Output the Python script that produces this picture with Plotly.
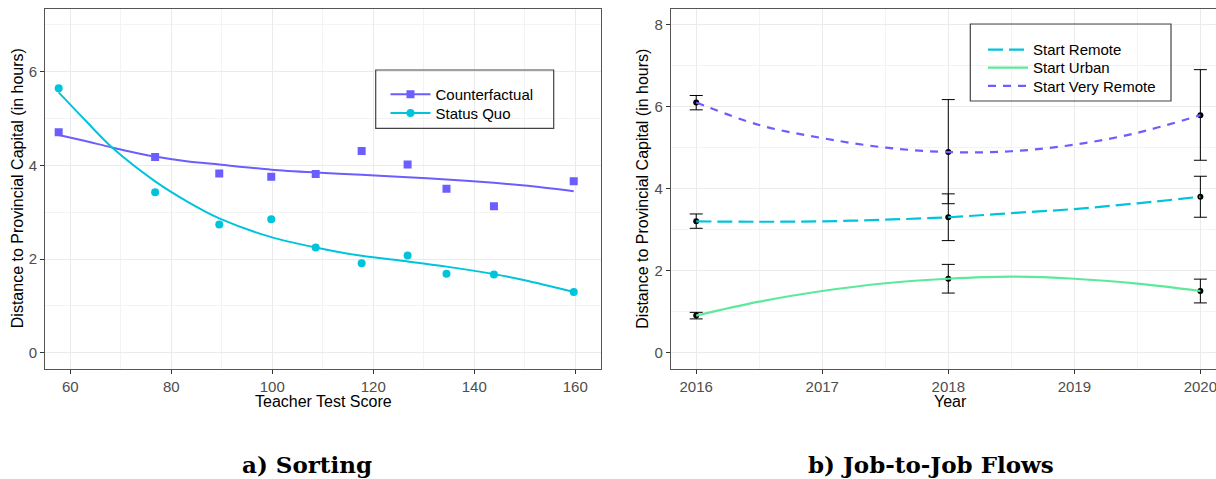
import plotly.graph_objects as go

W, H = 1216, 479

# ---------------- Panel a) Sorting ----------------
score = [57.7, 76.8, 89.5, 99.8, 108.6, 117.7, 126.8, 134.5, 143.9, 159.7]
counterfactual = [4.71, 4.18, 3.83, 3.76, 3.82, 4.31, 4.02, 3.50, 3.13, 3.66]
status_quo = [5.65, 3.43, 2.74, 2.85, 2.25, 1.91, 2.08, 1.69, 1.67, 1.30]

fit_score = [57.7, 63, 68.4, 76.8, 83, 89.5, 99.8, 108.6, 117.7, 126.8, 134.5, 143.9, 150, 159.7]
counterfactual_fit = [4.65, 4.52, 4.38, 4.19, 4.09, 4.02, 3.91, 3.85, 3.80, 3.75, 3.70, 3.63, 3.57, 3.45]
status_quo_fit = [5.56, 4.96, 4.37, 3.66, 3.24, 2.87, 2.47, 2.25, 2.07, 1.95, 1.84, 1.68, 1.55, 1.30]

# ---------------- Panel b) Job-to-Job Flows ----------------
years = [2016, 2018, 2020]
remote = [3.20, 3.30, 3.80]
remote_lo = [3.03, 2.73, 3.30]
remote_hi = [3.38, 3.87, 4.30]
urban = [0.90, 1.80, 1.50]
urban_lo = [0.82, 1.45, 1.21]
urban_hi = [0.98, 2.15, 1.79]
very_remote = [6.10, 4.89, 5.79]
very_remote_lo = [5.92, 3.63, 4.69]
very_remote_hi = [6.27, 6.17, 6.90]

fit_years = [2016, 2016.5, 2017, 2017.5, 2018, 2018.5, 2019, 2019.5, 2020]
remote_fit = [3.20, 3.19, 3.20, 3.24, 3.30, 3.40, 3.50, 3.64, 3.80]
urban_fit = [0.90, 1.24, 1.50, 1.69, 1.80, 1.85, 1.80, 1.68, 1.50]
very_remote_fit = [6.10, 5.55, 5.23, 5.00, 4.89, 4.91, 5.07, 5.36, 5.79]

C_PURPLE = "#6C5DFF"
C_CYAN = "#00C4DC"
C_GREEN = "#5DE99B"

FONT = "Arial, Liberation Sans, sans-serif"

fig = go.Figure()

# Panel a traces
fig.add_trace(go.Scatter(x=fit_score, y=counterfactual_fit, mode="lines",
                         line=dict(color=C_PURPLE, width=2, shape="spline", smoothing=0.8),
                         showlegend=False, xaxis="x", yaxis="y"))
fig.add_trace(go.Scatter(x=fit_score, y=status_quo_fit, mode="lines",
                         line=dict(color=C_CYAN, width=2, shape="spline", smoothing=0.8),
                         showlegend=False, xaxis="x", yaxis="y"))
fig.add_trace(go.Scatter(x=score, y=counterfactual, mode="markers", marker=dict(color=C_PURPLE, symbol="square", size=8),
                         showlegend=False, xaxis="x", yaxis="y"))
fig.add_trace(go.Scatter(x=score, y=status_quo, mode="markers", marker=dict(color=C_CYAN, symbol="circle", size=8),
                         showlegend=False, xaxis="x", yaxis="y"))
# legend entries (panel a)
fig.add_trace(go.Scatter(x=[None], y=[None], mode="lines+markers", name="Counterfactual",
                         line=dict(color=C_PURPLE, width=2), marker=dict(color=C_PURPLE, symbol="square", size=8),
                         legend="legend", xaxis="x", yaxis="y"))
fig.add_trace(go.Scatter(x=[None], y=[None], mode="lines+markers", name="Status Quo",
                         line=dict(color=C_CYAN, width=2), marker=dict(color=C_CYAN, symbol="circle", size=8),
                         legend="legend2", xaxis="x", yaxis="y"))

# Panel b: error bars + points
for y, lo, hi in [(remote, remote_lo, remote_hi), (urban, urban_lo, urban_hi), (very_remote, very_remote_lo, very_remote_hi)]:
    fig.add_trace(go.Scatter(
        x=years, y=y, mode="markers",
        marker=dict(color="black", size=6),
        error_y=dict(type="data", symmetric=False,
                     array=[h - v for h, v in zip(hi, y)],
                     arrayminus=[v - l for v, l in zip(y, lo)],
                     color="black", thickness=1, width=6.5),
        showlegend=False, xaxis="x2", yaxis="y2"))

# Panel b: fitted lines
fig.add_trace(go.Scatter(x=fit_years, y=remote_fit, mode="lines", name="Start Remote",
                         line=dict(color=C_CYAN, width=2.2, dash="15px,6px", shape="spline"),
                         legend="legend3", xaxis="x2", yaxis="y2"))
fig.add_trace(go.Scatter(x=fit_years, y=urban_fit, mode="lines", name="Start Urban",
                         line=dict(color=C_GREEN, width=2.2, shape="spline"),
                         legend="legend4", xaxis="x2", yaxis="y2"))
fig.add_trace(go.Scatter(x=fit_years, y=very_remote_fit, mode="lines", name="Start Very Remote",
                         line=dict(color=C_PURPLE, width=2.2, dash="8px,7px", shape="spline"),
                         legend="legend5", xaxis="x2", yaxis="y2"))

# geometry (pixels)
ax_l0, ax_l1 = 45.3, 601.0
ax_r0, ax_r1 = 671.0, 1216.0
py_top, py_bot = 9.0, 368.5
ydom = [1 - py_bot / H, 1 - py_top / H]

axis_common = dict(
    showline=True, linecolor="#555555", linewidth=1.2,
    ticks="outside", ticklen=4, tickcolor="#333333", tickwidth=1,
    tickfont=dict(family=FONT, size=15, color="#4D4D4D"),
    showgrid=True, gridcolor="#EBEBEB", gridwidth=1.1,
    zeroline=False, automargin=False, ticklabeloverflow="allow",
)


def leg(xpx, center_px):
    return dict(x=xpx / W, y=1 - (center_px - 16) / H, xanchor="left", yanchor="top",
                bgcolor="rgba(0,0,0,0)", borderwidth=0, itemwidth=40, tracegroupgap=0,
                font=dict(family=FONT, size=15, color="black"))


fig.update_layout(
    template="none",
    width=W, height=H,
    margin=dict(l=0, r=0, t=0, b=0, pad=0),
    paper_bgcolor="white", plot_bgcolor="white",
    font=dict(family=FONT, size=15, color="black"),
    xaxis=dict(domain=[ax_l0 / W, ax_l1 / W], range=[55.05, 165.1], tick0=0, dtick=20,
               mirror=True, anchor="y",
               minor=dict(dtick=10, showgrid=True, gridcolor="#F3F3F3", gridwidth=0.7, ticks=""),
               **axis_common),
    yaxis=dict(domain=ydom, range=[-0.335, 7.34], tick0=0, dtick=2, mirror=True, anchor="x",
               minor=dict(dtick=1, showgrid=True, gridcolor="#F3F3F3", gridwidth=0.7, ticks=""),
               **axis_common),
    xaxis2=dict(domain=[ax_r0 / W, ax_r1 / W], range=[2015.80, 2020.124], tick0=2016, dtick=1,
                mirror=True, anchor="y2",
                minor=dict(dtick=0.5, showgrid=True, gridcolor="#F3F3F3", gridwidth=0.7, ticks=""),
                **axis_common),
    yaxis2=dict(domain=ydom, range=[-0.39, 8.38], tick0=0, dtick=2, mirror=False, anchor="x2",
                minor=dict(dtick=1, showgrid=True, gridcolor="#F3F3F3", gridwidth=0.7, ticks=""),
                **axis_common),
    legend=leg(385.5, 94.0),
    legend2=leg(385.5, 112.7),
    legend3=leg(983.0, 49.3),
    legend4=leg(983.0, 67.3),
    legend5=leg(983.0, 85.7),
    shapes=[
        dict(type="rect", xref="paper", yref="paper",
             x0=375.7 / W, x1=553.7 / W, y0=1 - 128.3 / H, y1=1 - 70 / H,
             line=dict(color="#444444", width=1.2), fillcolor="rgba(0,0,0,0)", layer="above"),
        dict(type="rect", xref="paper", yref="paper",
             x0=970.3 / W, x1=1171 / W, y0=1 - 101 / H, y1=1 - 24 / H,
             line=dict(color="#444444", width=1.2), fillcolor="rgba(0,0,0,0)", layer="above"),
    ],
)

title_font = dict(family=FONT, size=16, color="black")
cap_font = dict(family="DejaVu Serif, serif", size=23, color="black")
annotations = [
    dict(text="Teacher Test Score", x=(ax_l0 + ax_l1) / 2 / W, y=1 - 401.5 / H, xref="paper", yref="paper",
         xanchor="center", yanchor="middle", showarrow=False, font=title_font),
    dict(text="Year", x=950.5 / W, y=1 - 401.5 / H, xref="paper", yref="paper",
         xanchor="center", yanchor="middle", showarrow=False, font=title_font),
    dict(text="Distance to Provincial Capital (in hours)", x=17.5 / W, y=1 - 188.7 / H, xref="paper", yref="paper",
         xanchor="center", yanchor="middle", textangle=-90, showarrow=False, font=title_font),
    dict(text="Distance to Provincial Capital (in hours)", x=643 / W, y=1 - 188.7 / H, xref="paper", yref="paper",
         xanchor="center", yanchor="middle", textangle=-90, showarrow=False, font=title_font),
    dict(text="<b>a) Sorting</b>", x=306.5 / W, y=1 - 464 / H, xref="paper", yref="paper",
         xanchor="center", yanchor="middle", showarrow=False, font=cap_font),
    dict(text="<b>b) Job-to-Job Flows</b>", x=930.5 / W, y=1 - 464 / H, xref="paper", yref="paper",
         xanchor="center", yanchor="middle", showarrow=False, font=cap_font),
]
fig.update_layout(annotations=annotations)

fig.write_html("out.html")
